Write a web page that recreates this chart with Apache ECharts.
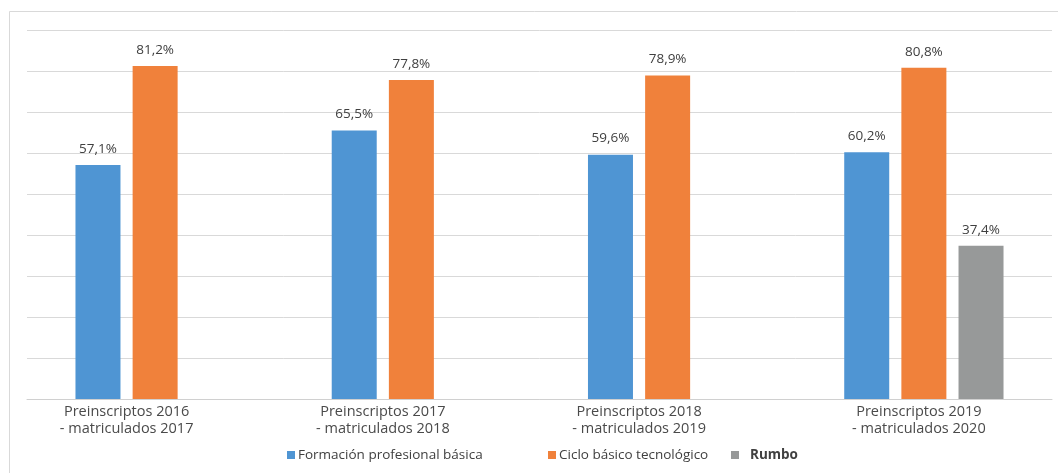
<!DOCTYPE html>
<html>
<head>
<meta charset="utf-8">
<script src="https://cdn.jsdelivr.net/npm/echarts@6/dist/echarts.min.js"></script>
<style>
html, body { margin: 0; padding: 0; background: #fff; }
#chart { width: 1058px; height: 473px; }
</style>
</head>
<body>
<div id="chart"></div>
<script>
// categorias y valores (%)
let categories = [
	'Preinscriptos 2016\n- matriculados 2017',
	'Preinscriptos 2017\n- matriculados 2018',
	'Preinscriptos 2018\n- matriculados 2019',
	'Preinscriptos 2019\n- matriculados 2020'
];
let seriesNames = ['Formación profesional básica', 'Ciclo básico tecnológico', 'Rumbo'];
let fpbValues = [57.1, 65.5, 59.6, 60.2];
let cbtValues = [81.2, 77.8, 78.9, 80.8];
let rumboValues = [null, null, null, 37.4];
let barColors = ['#4f95d3', '#f0813b', '#979999'];

function pctLabel(p){
	return p.value.toFixed(1).replace('.', ',') + '%';
}

function makeSeries(name, data, color){
	return {
		name: name,
		type: 'bar',
		data: data,
		barWidth: 45,
		barGap: '27%',
		itemStyle: { color: color },
		label: {
			show: true,
			position: 'top',
			distance: 9,
			color: '#404040',
			fontSize: 13.5,
			fontFamily: 'Open Sans',
			formatter: pctLabel
		}
	};
}

function makeLegend(name, left, bold){
	return {
		data: [name],
		left: left,
		top: 443,
		itemWidth: 8,
		itemHeight: 8,
		icon: 'rect',
		textStyle: {
			color: '#404040',
			fontSize: 13.5,
			fontFamily: 'Open Sans',
			fontWeight: bold ? 'bold' : 'normal',
			padding: bold ? [0, 0, 0, 6] : [0, 0, 0, -2]
		}
	};
}

// etiquetas de categoria centradas bajo las barras que existen
function categoryData(){
	return categories.map(function(c, i){
		let empty = rumboValues[i] == null;
		return { value: c, textStyle: { padding: empty ? [0, 57, 0, 0] : [0, 10, 0, 0] } };
	});
}

let myChart = echarts.init(document.getElementById('chart'));
let option = {
	backgroundColor: '#fff',
	animation: false,
	graphic: [{
		type: 'rect',
		shape: { x: 9.5, y: 11.5, width: 1100, height: 600 },
		style: { fill: 'none', stroke: '#d9d9d9', lineWidth: 1 },
		silent: true
	}],
	legend: [
		makeLegend(seriesNames[0], 282, false),
		makeLegend(seriesNames[1], 543, false),
		makeLegend(seriesNames[2], 726, true)
	],
	grid: { left: 27, right: 6, top: 30, bottom: 74, containLabel: false },
	xAxis: {
		type: 'category',
		data: categoryData(),
		axisLine: { lineStyle: { color: '#d0d0d0' } },
		axisTick: { show: false },
		axisLabel: {
			margin: 4,
			color: '#4a4a4a',
			fontSize: 14.5,
			lineHeight: 17,
			fontFamily: 'Open Sans',
			fontWeight: 500
		}
	},
	yAxis: {
		type: 'value',
		min: 0,
		max: 90,
		interval: 10,
		axisLabel: { show: false },
		axisLine: { show: false },
		axisTick: { show: false },
		splitLine: { lineStyle: { color: '#d9d9d9' } }
	},
	series: [
		makeSeries(seriesNames[0], fpbValues, barColors[0]),
		makeSeries(seriesNames[1], cbtValues, barColors[1]),
		makeSeries(seriesNames[2], rumboValues, barColors[2])
	]
};
myChart.setOption(option);
</script>
</body>
</html>
